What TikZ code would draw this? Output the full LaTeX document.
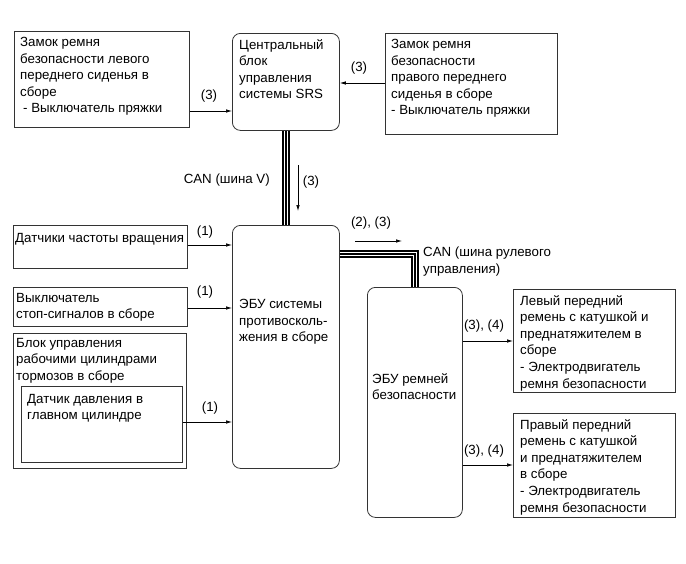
\documentclass[tikz,border=0pt]{standalone}
\usepackage{fontspec}
\setmainfont{Liberation Sans}
\usetikzlibrary{arrows.meta}

\tikzset{
  box/.style={draw=black!80, line width=0.8pt, anchor=north west, inner sep=0pt},
  ecu/.style={box, rounded corners=8pt},
  txt/.style={anchor=north west, inner sep=0pt, align=left, font=\fontsize{13.3}{16.6}\selectfont},
  lbl/.style={inner sep=0pt, font=\fontsize{13.3}{16.6}\selectfont},
  sig/.style={draw=black, line width=0.7pt, -{Latex[length=6pt,width=3.5pt]}},
  bus/.style={white, line width=4pt, line join=miter,
    preaction={draw, black, line width=7.5pt},
    postaction={draw, black, line width=1.4pt}}
}

\begin{document}
\begin{tikzpicture}[x=1pt,y=-1pt]
  \useasboundingbox (0,0) rectangle (686,563);

  % top row: buckles and SRS unit
  \node[box, minimum width=175pt, minimum height=96pt] (lbuckle) at (14,31) {};
  \node[txt] (lbuckletxt) at ([shift={(6,6)}]lbuckle.north west)
    {Замок ремня\\безопасности левого\\переднего сиденья в\\сборе\\\hspace*{3pt}- Выключатель пряжки};
  \node[ecu, minimum width=107pt, minimum height=97pt] (srs) at (232,33) {};
  \node[txt] (srstxt) at ([shift={(7,6)}]srs.north west)
    {Центральный\\блок\\управления\\системы SRS};
  \node[box, minimum width=172pt, minimum height=101pt] (rbuckle) at (385,33) {};
  \node[txt] (rbuckletxt) at ([shift={(6,6)}]rbuckle.north west)
    {Замок ремня\\безопасности\\правого переднего\\сиденья в сборе\\- Выключатель пряжки};

  % left column: sensors
  \node[box, minimum width=174pt, minimum height=43pt] (speed) at (13,225) {};
  \node[txt] (speedtxt) at ([shift={(2,8)}]speed.north west) {Датчики частоты вращения};
  \node[box, minimum width=174pt, minimum height=39pt] (stop) at (13,287) {};
  \node[txt] (stoptxt) at ([shift={(3,6)}]stop.north west) {Выключатель\\стоп-сигналов в сборе};
  \node[box, minimum width=173pt, minimum height=135pt] (brake) at (13,333) {};
  \node[txt] (braketxt) at ([shift={(3,5)}]brake.north west)
    {Блок управления\\рабочими цилиндрами\\тормозов в сборе};
  \node[box, minimum width=161pt, minimum height=76pt] (press) at (21,386) {};
  \node[txt] (presstxt) at ([shift={(6,8)}]press.north west)
    {Датчик давления в\\главном цилиндре};

  % ECUs
  \node[ecu, minimum width=107pt, minimum height=243pt] (abs) at (232,225) {};
  \node[txt] (abstxt) at ([shift={(7,74)}]abs.north west)
    {ЭБУ системы\\противосколь-\\жения в сборе};
  \node[ecu, minimum width=95pt, minimum height=230pt] (belt) at (367,287) {};
  \node[txt] (belttxt) at ([shift={(5,86)}]belt.north west)
    {ЭБУ ремней\\безопасности};

  % right column: pretensioners
  \node[box, minimum width=162pt, minimum height=103pt] (lpret) at (513,289) {};
  \node[txt] (lprettxt) at ([shift={(7,6)}]lpret.north west)
    {Левый передний\\ремень с катушкой и\\преднатяжителем в\\сборе\\- Электродвигатель\\ремня безопасности};
  \node[box, minimum width=162pt, minimum height=104pt] (rpret) at (513,413) {};
  \node[txt] (rprettxt) at ([shift={(7,6)}]rpret.north west)
    {Правый передний\\ремень с катушкой\\и преднатяжителем\\в сборе\\- Электродвигатель\\ремня безопасности};

  % CAN buses
  \draw[bus] (srs.south) -- (abs.north);
  \draw[bus] (abs.east |- 0,254) -| (belt.north);
  \node[lbl, anchor=east] (canv) at (270,180) {CAN (шина V)};
  \node[txt] (cansteer) at (423,247) {CAN (шина рулевого\\управления)};

  % signals
  \draw[sig] (lbuckle.east |- 0,111) -- (srs.west |- 0,111);
  \draw[sig] (rbuckle.west |- 0,83) -- (srs.east |- 0,83);
  \draw[sig] (speed.east |- 0,245) -- (abs.west |- 0,245);
  \draw[sig] (stop.east |- 0,308) -- (abs.west |- 0,308);
  \draw[sig] (press.east |- 0,422) -- (abs.west |- 0,422);
  \draw[sig] (belt.east |- 0,341) -- (lpret.west |- 0,341);
  \draw[sig] (belt.east |- 0,465) -- (rpret.west |- 0,465);
  \coordinate (dntop) at (298,165);
  \coordinate (dnbot) at (298,211);
  \draw[sig] (dntop) -- (dnbot);
  \coordinate (rtleft) at (355,241);
  \coordinate (rtright) at (402,241);
  \draw[sig] (rtleft) -- (rtright);

  % signal labels
  \node[lbl] (l3a) at (209,96) {(3)};
  \node[lbl] (l3b) at (359,68) {(3)};
  \node[lbl] (l3c) at (311,182) {(3)};
  \node[lbl] (l1a) at (205,232) {(1)};
  \node[lbl] (l1b) at (205,292) {(1)};
  \node[lbl] (l1c) at (210,408) {(1)};
  \node[lbl] (l23) at (371,223) {(2), (3)};
  \node[lbl] (l34a) at (484,326) {(3), (4)};
  \node[lbl] (l34b) at (484,451) {(3), (4)};
\end{tikzpicture}
\end{document}
